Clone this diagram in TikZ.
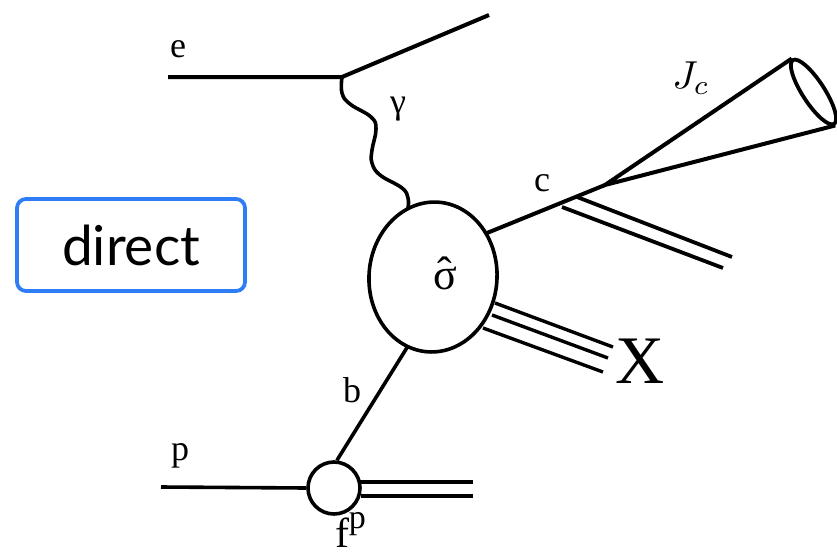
\documentclass[tikz,border=0pt]{standalone}
\usepackage{fontspec}
\setmainfont{Liberation Serif}
\newfontfamily\directfont{Lato}
\usetikzlibrary{shapes.geometric}
\definecolor{boxblue}{HTML}{2F7DF6}
\newcommand{\sighat}{\setbox0=\hbox{σ}\hbox to \wd0{\hss\raisebox{2pt}{ˆ}\hss}\kern-\wd0\box0}
\begin{document}
\begin{tikzpicture}[x=1pt,y=-1pt,line width=4pt,
  lbl/.style={font=\fontsize{36}{40}\selectfont,inner sep=0pt},
  blob/.style={draw,line width=3.6pt,inner sep=0pt},
  thin3/.style={line width=3.4pt},
  dbl/.style={line width=3.8pt}]
\useasboundingbox (0,0) rectangle (837,554);
% direct box
\node[draw=boxblue,line width=3.8pt,rounded corners=9pt,minimum width=228,minimum height=92,
      font=\directfont\fontsize{55}{60}\selectfont] (direct) at (131,245) {direct};
% electron line
\coordinate (ein) at (168,77);
\coordinate (v1) at (342,77);
\coordinate (eout) at (489,15);
\draw (ein) -- (v1) -- (eout);
\node[lbl] (elbl) at (178,49) {e};
% hard blob
\node[blob,ellipse,minimum width=128,minimum height=150,rotate=-4] (sig) at (433,277) {};
\node[inner sep=0pt,font=\fontsize{44}{48}\selectfont] (siglbl) at (445,273) {\sighat};
% photon
\coordinate (v2) at (408,208);
\draw[line width=3.6pt] plot[smooth,tension=0.7] coordinates {(v1) (342,93) (350,104) (371,117) (376,129) (372,150) (372,163) (380,175) (402,188) (408,198) (v2)};
\node[lbl] (glbl) at (398,109) {γ};
% outgoing c and jet
\coordinate (cs) at (487,233);
\coordinate (apex) at (605,185);
\draw (cs) -- (apex);
\node[lbl] (clbl) at (542,183) {c};
\node[draw,line width=3.8pt,ellipse,minimum width=76,minimum height=22,inner sep=0pt,rotate=-57] (jetend) at (813.5,92) {};
\draw (jetend.west) -- (apex) -- (jetend.east);
\node[scale=3.9,inner sep=0pt] (jlbl) at (691,78) {$J_c$};
% remnant double line
\coordinate (d1s) at (577,197);
\coordinate (d1e) at (732,257);
\coordinate (d2s) at (562,207);
\coordinate (d2e) at (723,268);
\draw[dbl] (d1s) -- (d1e);
\draw[dbl] (d2s) -- (d2e);
% X triple line
\coordinate (x1s) at (495,303); \coordinate (x1e) at (613,347);
\coordinate (x2s) at (492,315); \coordinate (x2e) at (608,358);
\coordinate (x3s) at (483,328); \coordinate (x3e) at (603,372);
\draw[thin3] (x1s) -- (x1e);
\draw[thin3] (x2s) -- (x2e);
\draw[thin3] (x3s) -- (x3e);
\node[inner sep=0pt,font=\fontsize{68}{72}\selectfont] (xlbl) at (640,361) {X};
% proton side
\node[blob,circle,minimum size=52] (fp) at (334,488) {};
\coordinate (bs) at (408,346);
\draw[line width=3.6pt] (bs) -- (fp.84);
\node[lbl] (blbl) at (352,390) {b};
\coordinate (pin) at (161,487);
\draw[line width=3.6pt] (pin) -- (fp.west);
\node[lbl] (plbl) at (180,456) {p};
\coordinate (r1s) at (359,482); \coordinate (r1e) at (473,482);
\coordinate (r2s) at (361,496); \coordinate (r2e) at (473,496);
\draw[dbl] (r1s) -- (r1e);
\draw[dbl] (r2s) -- (r2e);
\node[anchor=base west,inner sep=0pt] (fplbl) at (333,547)
  {\fontsize{42}{48}\selectfont f\raisebox{19pt}{\fontsize{34}{38}\selectfont p}};
\end{tikzpicture}
\end{document}
